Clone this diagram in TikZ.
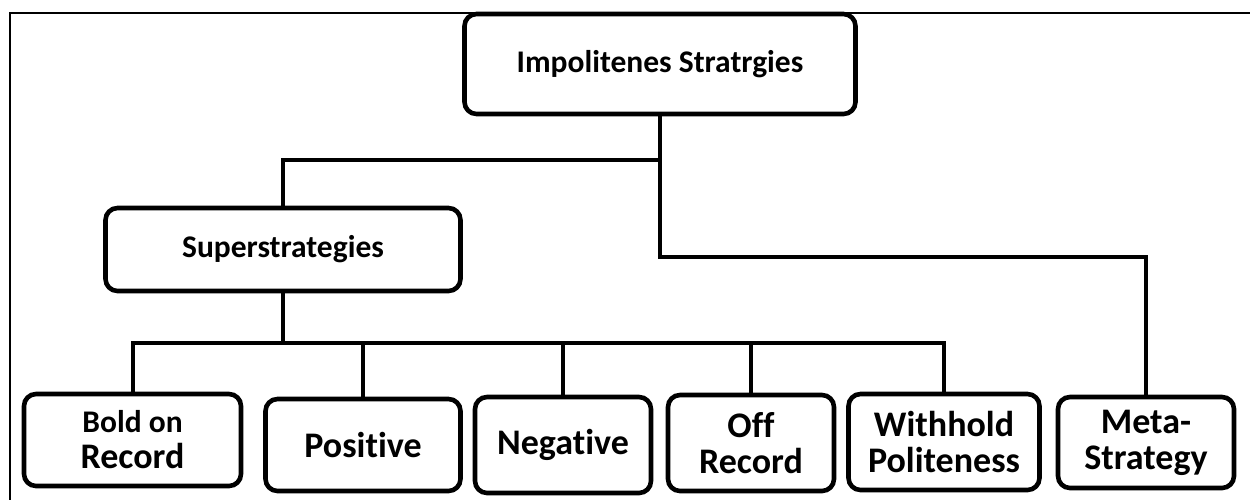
\documentclass[tikz,border=0pt]{standalone}
\usepackage{fontspec}
\setmainfont{Carlito}[Ligatures={NoCommon}]
\usepackage{tikz}
\usetikzlibrary{
  positioning,
  calc
}

\begin{document}
\begin{tikzpicture}[x=0.5pt, y=-0.5pt,
  stratbox/.style={draw=black, line width=2.3pt, rounded corners=6pt, fill=white,
    inner sep=0pt, align=center, font=\bfseries\fontsize{18}{18}\selectfont},
  headbox/.style={stratbox, font=\bfseries\fontsize{15.75}{17}\selectfont},
  link/.style={draw=black, line width=2pt}]
  \useasboundingbox (0,0) rectangle (1250,499);
  % frame (cut off at the right and bottom)
  \draw[line width=1pt] (10,520) -- (10,13) -- (1270,13);

  \node[headbox, minimum width=195.5pt, minimum height=50pt] (top) at (660,64) {Impolitenes Stratrgies};
  \node[headbox, minimum width=177.5pt, minimum height=41.5pt] (super) at (283,249.5) {Superstrategies};

  % bottom row
  \node[stratbox, minimum width=108.5pt, minimum height=46pt] (bold) at (132.5,440)
    {{\fontsize{15.75}{17}\selectfont Bold on}\\Record};
  \node[stratbox, minimum width=97.5pt, minimum height=46pt] (pos) at (363,445) {Positive};
  \node[stratbox, minimum width=88pt, minimum height=48pt] (neg) at (563,445) {Negative};
  \node[stratbox, minimum width=83pt, minimum height=48pt] (off) at (751,443) {Off\\Record};
  \node[stratbox, minimum width=95.5pt, minimum height=48pt] (with) at (944,442) {Withhold\\Politeness};
  \node[stratbox, minimum width=88pt, minimum height=45.5pt] (meta) at (1146,442.5) {Meta-\\Strategy};

  \coordinate (split) at (660,160);
  \coordinate (metaturn) at (660,257);
  \coordinate (rowbar) at (283,343);

  \draw[link] (top) -- (split) -| (super);
  \draw[link] (split) -- (metaturn) -| (meta);
  \draw[link] (super) -- (rowbar);
  \draw[link] (bold) |- (rowbar) -| (with);
  \foreach \nm in {pos, neg, off}
    \draw[link] (\nm) -- (\nm |- rowbar);
\end{tikzpicture}
\end{document}
